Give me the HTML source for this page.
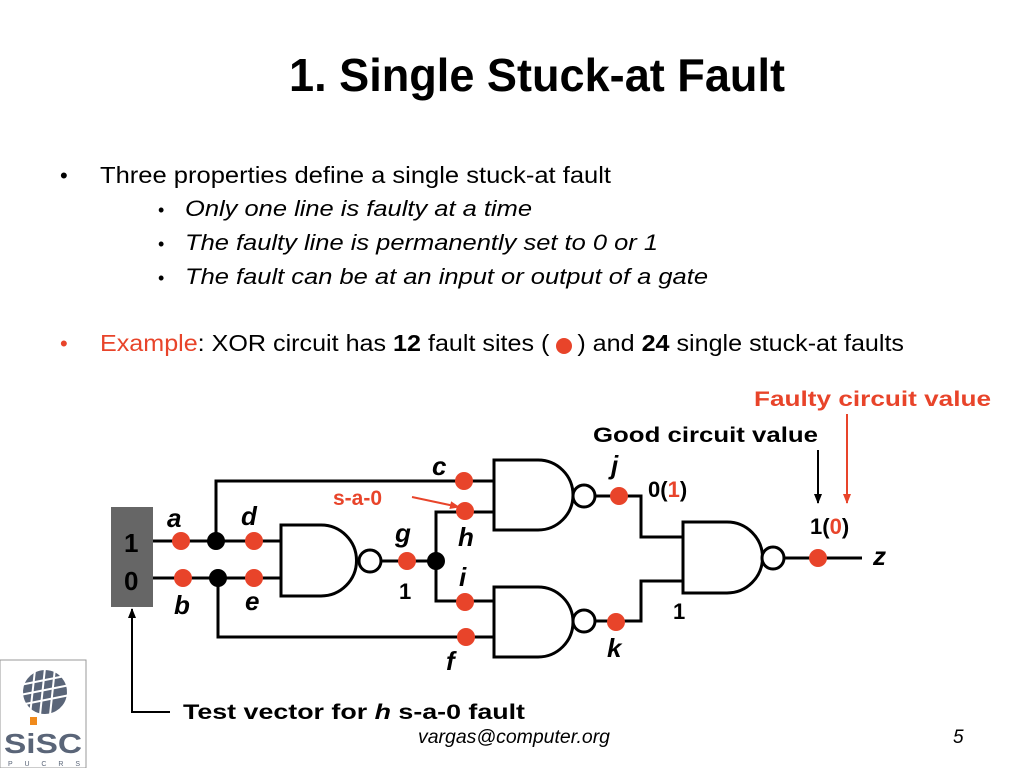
<!DOCTYPE html>
<html><head><meta charset="utf-8"><style>
html,body{margin:0;padding:0;background:#fff;width:1024px;height:768px;overflow:hidden}
svg{display:block}
text{font-family:"Liberation Sans",Arial,sans-serif}
</style></head><body>
<svg width="1024" height="768" viewBox="0 0 1024 768" xmlns="http://www.w3.org/2000/svg">
<defs>
<marker id="ab" markerWidth="10" markerHeight="10" refX="9" refY="5" orient="auto" markerUnits="userSpaceOnUse"><path d="M0,1 L10,5 L0,9 Z" fill="#000"/></marker>
<marker id="ar" markerWidth="10" markerHeight="10" refX="9" refY="5" orient="auto" markerUnits="userSpaceOnUse"><path d="M0,1 L10,5 L0,9 Z" fill="#e8442a"/></marker>
</defs>
<text x="289" y="91" font-size="46" font-weight="bold" textLength="496" lengthAdjust="spacingAndGlyphs">1. Single Stuck-at Fault</text>
<text x="60" y="183" font-size="22">•</text>
<text x="100" y="183" font-size="23" textLength="511" lengthAdjust="spacingAndGlyphs">Three properties define a single stuck-at fault</text>
<text x="158" y="216" font-size="18">•</text>
<text x="185" y="216" font-size="22" font-style="italic" textLength="347" lengthAdjust="spacingAndGlyphs">Only one line is faulty at a time</text>
<text x="158" y="250" font-size="18">•</text>
<text x="185" y="250" font-size="22" font-style="italic" textLength="473" lengthAdjust="spacingAndGlyphs">The faulty line is permanently set to 0 or 1</text>
<text x="158" y="284" font-size="18">•</text>
<text x="185" y="284" font-size="22" font-style="italic" textLength="523" lengthAdjust="spacingAndGlyphs">The fault can be at an input or output of a gate</text>
<text x="60" y="351" font-size="22" fill="#e8442a">•</text>
<text x="100" y="351" font-size="23" textLength="804" lengthAdjust="spacingAndGlyphs"><tspan fill="#e8442a">Example</tspan>: XOR circuit has <tspan font-weight="bold">12</tspan> fault sites (<tspan fill="#fff">__</tspan>) and <tspan font-weight="bold">24</tspan> single stuck-at faults</text>
<circle cx="564" cy="346" r="8" fill="#e8442a"/>

<rect x="111" y="507" width="42" height="100" fill="#666"/>
<text x="124" y="552" font-size="26" font-weight="bold">1</text>
<text x="124" y="590" font-size="26" font-weight="bold">0</text>

<g stroke="#000" stroke-width="3" fill="none">
<path d="M153,541 H281"/>
<path d="M153,578 H281"/>
<path d="M216,541 V481 H494"/>
<path d="M218,578 V637 H494"/>
<path d="M382,561 H436"/>
<path d="M494,512 H436 V601 H494"/>
<path d="M595,496 H641 V537 H683"/>
<path d="M595,621 H641 V581 H683"/>
<path d="M784,558 H862"/>
<path d="M281,525 H321 A35.5,35.5 0 0 1 321,596 H281 Z" fill="#fff"/>
<path d="M494,460 H538 A35,35 0 0 1 538,530 H494 Z" fill="#fff"/>
<path d="M683,522 H727 A35.5,35.5 0 0 1 727,593 H683 Z" fill="#fff"/>
<path d="M494,587 H538 A35,35 0 0 1 538,657 H494 Z" fill="#fff"/>
<circle cx="370" cy="561" r="11" fill="#fff"/>
<circle cx="584" cy="496" r="11" fill="#fff"/>
<circle cx="773" cy="558" r="11" fill="#fff"/>
<circle cx="584" cy="621" r="11" fill="#fff"/>
</g>
<circle cx="216" cy="541" r="9" fill="#000"/>
<circle cx="218" cy="578" r="9" fill="#000"/>
<circle cx="436" cy="561" r="9" fill="#000"/>
<g fill="#e8442a">
<circle cx="181" cy="541" r="9"/><circle cx="183" cy="578" r="9"/>
<circle cx="254" cy="541" r="9"/><circle cx="254" cy="578" r="9"/>
<circle cx="407" cy="561" r="9"/>
<circle cx="464" cy="481" r="9"/><circle cx="465" cy="511" r="9"/>
<circle cx="465" cy="602" r="9"/><circle cx="466" cy="637" r="9"/>
<circle cx="619" cy="496" r="9"/><circle cx="616" cy="622" r="9"/>
<circle cx="818" cy="558" r="9"/>
</g>
<g font-size="26" font-weight="bold" font-style="italic">
<text x="167" y="527">a</text><text x="174" y="614">b</text>
<text x="241" y="525">d</text><text x="245" y="610">e</text>
<text x="395" y="542">g</text><text x="432" y="475">c</text>
<text x="458" y="546">h</text><text x="459" y="586">i</text>
<text x="446" y="670">f</text><text x="611" y="474">j</text>
<text x="607" y="657">k</text><text x="873" y="565">z</text>
</g>
<g font-size="21" font-weight="bold">
<text x="399" y="599" font-size="22">1</text>
<text x="648" y="497" font-size="22">0(<tspan fill="#e8442a">1</tspan>)</text>
<text x="810" y="534" font-size="22">1(<tspan fill="#e8442a">0</tspan>)</text>
<text x="673" y="619" font-size="22">1</text>
<text x="333" y="505" fill="#e8442a">s-a-0</text>
<text x="593" y="442" textLength="225" lengthAdjust="spacingAndGlyphs">Good circuit value</text>
<text x="754" y="406" fill="#e8442a" textLength="237" lengthAdjust="spacingAndGlyphs">Faulty circuit value</text>
<text x="183" y="719" textLength="342" lengthAdjust="spacingAndGlyphs">Test vector for <tspan font-style="italic">h</tspan>  s-a-0 fault</text>
</g>
<line x1="412" y1="497" x2="459" y2="507" stroke="#e8442a" stroke-width="2" marker-end="url(#ar)"/>
<line x1="818" y1="450" x2="818" y2="503" stroke="#000" stroke-width="2" marker-end="url(#ab)"/>
<line x1="847" y1="414" x2="847" y2="503" stroke="#e8442a" stroke-width="2" marker-end="url(#ar)"/>
<path d="M170,712 H132 V609" stroke="#000" stroke-width="2" fill="none" marker-end="url(#ab)"/>
<text x="418" y="743" font-size="19" font-style="italic" textLength="192" lengthAdjust="spacingAndGlyphs">vargas@computer.org</text>
<text x="953" y="743" font-size="19" font-style="italic">5</text>
<rect x="0" y="660" width="86" height="108" fill="#fff" stroke="#999" stroke-width="1"/>
<ellipse cx="45" cy="692" rx="22" ry="22" fill="#5a6578" transform="rotate(-30 45 692)"/>
<g stroke="#fff" stroke-width="2">
<line x1="20" y1="685" x2="70" y2="675"/><line x1="20" y1="695" x2="70" y2="685"/><line x1="20" y1="705" x2="70" y2="695"/>
<line x1="35" y1="670" x2="30" y2="715"/><line x1="45" y1="668" x2="40" y2="715"/><line x1="55" y1="668" x2="50" y2="715"/>
</g>
<rect x="30" y="717" width="7" height="8" fill="#f08a1c"/>
<text x="4" y="753" font-size="28" font-weight="bold" fill="#5a6578" textLength="78" lengthAdjust="spacingAndGlyphs">SiSC</text>
<text x="8" y="766" font-size="7" fill="#5a6578" textLength="72" lengthAdjust="spacing">P U C R S</text>
</svg>
</body></html>
